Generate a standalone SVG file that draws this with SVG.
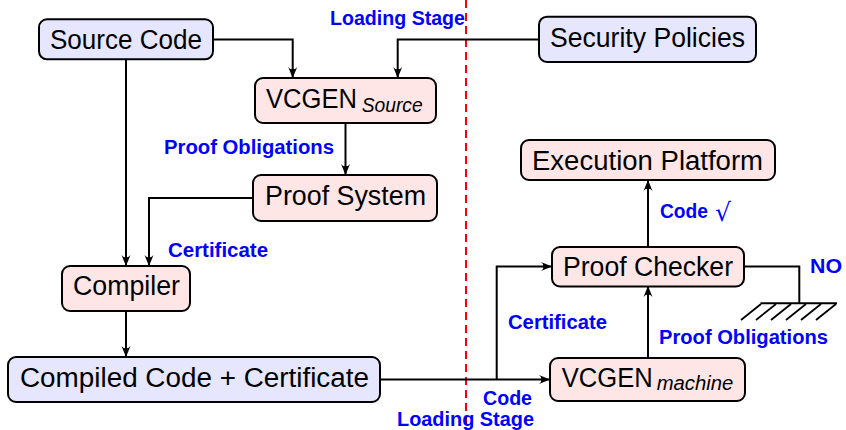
<svg xmlns="http://www.w3.org/2000/svg" width="846" height="430" viewBox="0 0 846 430">
<defs>
<style>
.box{stroke:#000;stroke-width:2}
.b{fill:#e6e6ff}
.r{fill:#ffe6e6}
.nt{font-family:"Liberation Sans",Arial,sans-serif;font-size:27px;fill:#000}
.sub{font-family:"Liberation Sans",Arial,sans-serif;font-size:19.5px;font-style:italic;fill:#000}
.lbl{font-family:"Liberation Sans",Arial,sans-serif;font-size:20px;font-weight:bold;fill:#0000ff}
.c{fill:none;stroke:#000;stroke-width:2}
.ca{fill:none;stroke:#000;stroke-width:2;marker-end:url(#ah)}
</style>
<marker id="ah" markerUnits="userSpaceOnUse" markerWidth="12" markerHeight="10" refX="11" refY="5" orient="auto" viewBox="0 0 12 10">
<path d="M0,0.5 Q4,4 1,5 Q4,6 0,9.5 L11,5 Z" fill="#000"/>
</marker>
</defs>
<line x1="466" y1="0" x2="466" y2="430" stroke="#ff0000" stroke-width="2" stroke-dasharray="8,5"/>
<g id="connectors">
<path class="ca" d="M213,39.5 H292.7 V78"/>
<path class="ca" d="M539,39.5 H397.7 V78"/>
<path class="ca" d="M345.5,123 V175"/>
<path class="ca" d="M253,198 H149 V266"/>
<path class="ca" d="M126,59 V266"/>
<path class="ca" d="M126,311 V357"/>
<path class="ca" d="M380,379.5 H550"/>
<path class="ca" d="M496.7,379.5 V266.5 H552"/>
<path class="ca" d="M648,358 V286"/>
<path class="ca" d="M648,247 V180"/>
<path class="c" d="M744,266.5 H799.3 V303.3"/>
<g id="ground" stroke="#000" stroke-width="2" fill="none">
<line x1="760.5" y1="303.3" x2="837" y2="303.3"/>
<path stroke-width="1.8" d="M761,304 l-20,16 M776,304 l-20,16 M791,304 l-20,16 M806,304 l-20,16 M821,304 l-20,16 M836,304 l-20,16"/>
</g>
</g>
<g id="source-code">
<rect class="box b" x="39" y="19.3" width="174" height="40" rx="8"/>
<text class="nt" x="50" y="49.3" textLength="152" lengthAdjust="spacingAndGlyphs">Source Code</text>
</g>
<g id="security-policies">
<rect class="box b" x="539" y="16.7" width="217" height="45.3" rx="8"/>
<text class="nt" x="550" y="46.7" textLength="195" lengthAdjust="spacingAndGlyphs">Security Policies</text>
</g>
<g id="vcgen-source">
<rect class="box r" x="255" y="78" width="181" height="45" rx="8"/>
<text class="nt" x="266" y="108.3"><tspan textLength="91" lengthAdjust="spacingAndGlyphs">VCGEN</tspan><tspan class="sub" x="361.7" y="111.7" textLength="61" lengthAdjust="spacingAndGlyphs">Source</tspan></text>
</g>
<g id="proof-system">
<rect class="box r" x="253" y="175" width="184" height="46" rx="8"/>
<text class="nt" x="265" y="205" textLength="161" lengthAdjust="spacingAndGlyphs">Proof System</text>
</g>
<g id="compiler">
<rect class="box r" x="62" y="266" width="128" height="45" rx="8"/>
<text class="nt" x="73" y="295" textLength="107" lengthAdjust="spacingAndGlyphs">Compiler</text>
</g>
<g id="compiled-code">
<rect class="box b" x="8" y="357" width="372" height="45" rx="8"/>
<text class="nt" x="20" y="386.5" textLength="349" lengthAdjust="spacingAndGlyphs">Compiled Code + Certificate</text>
</g>
<g id="execution-platform">
<rect class="box r" x="521" y="140" width="254" height="40" rx="8"/>
<text class="nt" x="532" y="170" textLength="231" lengthAdjust="spacingAndGlyphs">Execution Platform</text>
</g>
<g id="proof-checker">
<rect class="box r" x="552" y="247" width="192" height="39.5" rx="8"/>
<text class="nt" x="563" y="276" textLength="170" lengthAdjust="spacingAndGlyphs">Proof Checker</text>
</g>
<g id="vcgen-machine">
<rect class="box r" x="550" y="358" width="195" height="43" rx="8"/>
<text class="nt" x="561.7" y="386.7"><tspan textLength="91" lengthAdjust="spacingAndGlyphs">VCGEN</tspan><tspan class="sub" x="656.7" y="390" textLength="76.6" lengthAdjust="spacingAndGlyphs">machine</tspan></text>
</g>
<g id="labels">
<text class="lbl" x="330" y="25" textLength="135" lengthAdjust="spacingAndGlyphs">Loading Stage</text>
<text class="lbl" x="164" y="154" textLength="170" lengthAdjust="spacingAndGlyphs">Proof Obligations</text>
<text class="lbl" x="168" y="256.7" textLength="100" lengthAdjust="spacingAndGlyphs">Certificate</text>
<text class="lbl" x="660" y="218" textLength="48" lengthAdjust="spacingAndGlyphs">Code</text>
<text x="715" y="221" font-family="DejaVu Sans,sans-serif" font-size="25" fill="#0000ff">√</text>
<text class="lbl" x="810" y="273" textLength="32" lengthAdjust="spacingAndGlyphs">NO</text>
<text class="lbl" x="659" y="344" textLength="169" lengthAdjust="spacingAndGlyphs">Proof Obligations</text>
<text class="lbl" x="508" y="329" textLength="99" lengthAdjust="spacingAndGlyphs">Certificate</text>
<text class="lbl" x="483" y="405" textLength="49" lengthAdjust="spacingAndGlyphs">Code</text>
<text class="lbl" x="397" y="425.7" textLength="137" lengthAdjust="spacingAndGlyphs">Loading Stage</text>
</g>
</svg>
